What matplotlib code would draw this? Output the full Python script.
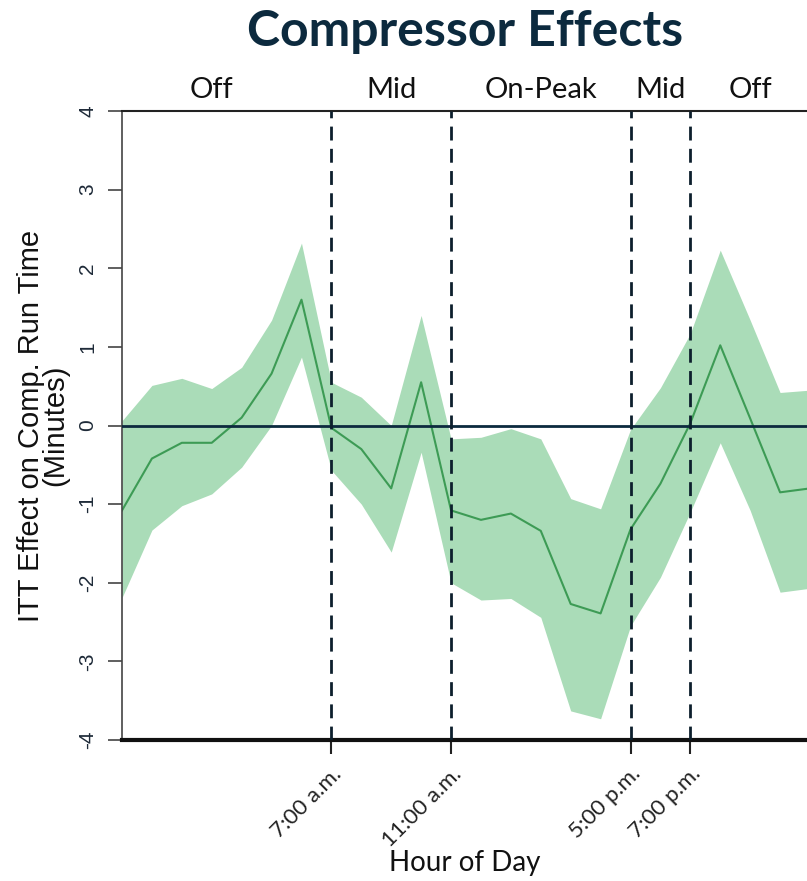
import matplotlib
matplotlib.use("Agg")
import matplotlib.pyplot as plt
import numpy as np

# hourly ITT effect on compressor run time (minutes) with confidence band
hours = list(range(24))
effect = [-1.08, -0.42, -0.22, -0.22, 0.10, 0.66, 1.60, -0.03, -0.30, -0.80, 0.55, -1.08,
          -1.20, -1.12, -1.34, -2.27, -2.39, -1.32, -0.74, 0.03, 1.02, 0.09, -0.85, -0.80]
upper = [0.06, 0.51, 0.60, 0.47, 0.74, 1.34, 2.32, 0.55, 0.36, 0.00, 1.40, -0.17,
         -0.15, -0.04, -0.17, -0.93, -1.06, -0.05, 0.48, 1.17, 2.23, 1.34, 0.42, 0.45]
lower = [-2.19, -1.33, -1.02, -0.87, -0.53, 0.00, 0.87, -0.57, -1.00, -1.61, -0.34, -2.00,
         -2.22, -2.20, -2.44, -3.63, -3.73, -2.55, -1.93, -1.10, -0.22, -1.08, -2.12, -2.07]

# period boundaries and labels
boundaries = [7, 11, 17, 19]
boundary_labels = ['7:00 a.m.', '11:00 a.m.', '5:00 p.m.', '7:00 p.m.']
periods = ['Off', 'Mid', 'On-Peak', 'Mid', 'Off']
period_centers = [3, 9, 14, 18, 21]
yticks = [-4, -3, -2, -1, 0, 1, 2, 3, 4]

navy = '#0c2a3e'

fig = plt.figure(figsize=(8.07, 8.81), dpi=100)
ax = fig.add_axes([122 / 807, 141 / 881, 1 - 122 / 807, 629 / 881])

ax.fill_between(hours, lower, upper, color='#aadcb8', lw=0, zorder=1)
ax.plot(hours, effect, color='#3d9b55', lw=1.5, zorder=2)
ax.axhline(0, color=navy, lw=2, zorder=3)
for b in boundaries:
    ax.axvline(b, color='#0d1f2d', lw=2, ls=(0, (5, 3)), zorder=3)

ax.set_xlim(0, 22.9)
ax.set_ylim(-4, 4)

ax.spines['right'].set_visible(False)
ax.spines['top'].set_color('#222222')
ax.spines['top'].set_linewidth(1.5)
ax.spines['bottom'].set_color('#111111')
ax.spines['bottom'].set_linewidth(3)
ax.spines['left'].set_color('#444444')
ax.spines['left'].set_linewidth(1.2)

ax.set_yticks(yticks)
ax.set_yticklabels([str(t) for t in yticks], rotation=90, va='center',
                   family='Liberation Sans', fontsize=15, color='#1e2a38')
ax.tick_params(axis='y', length=10, width=1.2, color='#444444', pad=8)

ax.set_xticks(boundaries)
ax.set_xticklabels(boundary_labels, rotation=45, ha='right', va='top',
                   rotation_mode='anchor', family='Lato', fontsize=16, color='#222222')
ax.tick_params(axis='x', length=10, width=1.5, color='#222222', pad=7)

for c, p in zip(period_centers, periods):
    ax.text(c, 4.1, p, ha='center', va='bottom', family='Lato', fontsize=21,
            color='#111111', clip_on=False)

ax.set_xlabel('Hour of Day', family='Lato', fontsize=20, color='#111111', labelpad=0)
ax.set_ylabel('ITT Effect on Comp. Run Time\n(Minutes)', family='Liberation Sans',
              fontsize=21, color='#111111', linespacing=0.85, labelpad=6)

fig.text(465 / 807, 1 - 31 / 881, 'Compressor Effects', ha='center', va='center',
         family='Lato', fontweight='bold', fontsize=36, color=navy)

fig.savefig('out.png', dpi=100)
